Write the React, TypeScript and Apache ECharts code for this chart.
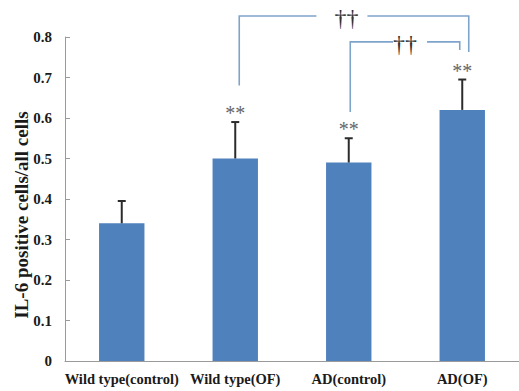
import React, { useEffect, useRef } from 'react';
import * as echarts from 'echarts';

const categories = ['Wild type(control)', 'Wild type(OF)', 'AD(control)', 'AD(OF)'];
const means = [0.34, 0.5, 0.49, 0.62];
const errors = [0.055, 0.09, 0.06, 0.075];
const marks = ['', '**', '**', '**'];
const yTicks = [0, 0.1, 0.2, 0.3, 0.4, 0.5, 0.6, 0.7, 0.8];

// significance brackets (category indices and y values)
const bracketFrom = [1, 2];
const bracketTo = [3, 3];
const bracketLeftY = [0.68, 0.615];
const bracketTopY = [0.852, 0.788];
const bracketRightY = [0.763, 0.768];
const bracketLabels = ['\u2020\u2020', '\u2020\u2020'];

// drawing tweaks (pixels)
const bracketDx = [[4, 6.5], [1.5, -2.5]];
const bracketLabelFrac = [0.467, 0.5];
const bracketGap = [[30, 21], [12, 22]];

const SERIF = '"Liberation Serif", "Times New Roman", serif';

export default function App() {
  const ref = useRef<HTMLDivElement>(null);
  useEffect(() => {
    if (!ref.current) return;
    const chart = echarts.init(ref.current, undefined, { renderer: 'svg' });
    const errData = means.map((m, i) => [i, m, m + errors[i], marks[i]]);
    const brData = bracketFrom.map((f, i) => [f, bracketTo[i], bracketLeftY[i], bracketTopY[i], bracketRightY[i], i]);
    chart.setOption({
      animation: false,
      grid: { left: 65, top: 37, width: 460, height: 324, containLabel: false },
      xAxis: {
        type: 'category',
        data: categories,
        boundaryGap: true,
        axisLine: { lineStyle: { color: '#9a9a9a', width: 1 } },
        axisTick: { inside: true, length: 7, interval: 0, lineStyle: { color: '#9a9a9a' } },
        axisLabel: {
          interval: 0,
          margin: 10,
          color: '#1a1a1a',
          fontFamily: SERIF,
          fontWeight: 'bold',
          fontSize: 14.5,
        },
      },
      yAxis: {
        type: 'value',
        min: 0,
        max: 0.8,
        interval: 0.1,
        axisLine: { show: true, lineStyle: { color: '#9a9a9a', width: 1 } },
        axisTick: { show: true, inside: true, length: 5, lineStyle: { color: '#9a9a9a' } },
        splitLine: { show: false },
        axisLabel: {
          margin: 13,
          color: '#1a1a1a',
          fontFamily: SERIF,
          fontWeight: 'bold',
          fontSize: 15,
          formatter: (v: number) => {
            const t = yTicks.find((y) => Math.abs(y - v) < 1e-9);
            return t === 0 ? '0' : (t ?? v).toFixed(1);
          },
        },
      },
      graphic: [
        {
          type: 'text',
          x: 21,
          y: 215,
          rotation: Math.PI / 2,
          style: {
            text: 'IL-6 positive cells/all cells',
            fill: '#1a1a1a',
            font: `bold 19px ${SERIF}`,
            align: 'center',
            verticalAlign: 'middle',
          },
        },
      ],
      series: [
        {
          type: 'bar',
          data: means,
          barWidth: '40%',
          itemStyle: { color: '#4f81bd' },
        },
        {
          type: 'custom',
          data: errData,
          z: 5,
          renderItem: (params: any, api: any) => {
            const x = api.value(0);
            const top = api.coord([x, api.value(2)]);
            const base = api.coord([x, api.value(1)]);
            const mark = marks[params.dataIndex];
            const children: any[] = [
              {
                type: 'line',
                shape: { x1: base[0], y1: base[1], x2: top[0], y2: top[1] },
                style: { stroke: '#2b2b2b', lineWidth: 2 },
              },
              {
                type: 'line',
                shape: { x1: top[0] - 4, y1: top[1], x2: top[0] + 4, y2: top[1] },
                style: { stroke: '#2b2b2b', lineWidth: 2 },
              },
            ];
            if (mark) {
              children.push({
                type: 'text',
                x: top[0],
                y: top[1] - 9,
                style: {
                  text: mark,
                  fill: '#666',
                  font: `20px ${SERIF}`,
                  align: 'center',
                  verticalAlign: 'middle',
                },
              });
            }
            return { type: 'group', children };
          },
        },
        {
          type: 'custom',
          data: brData,
          z: 5,
          clip: false,
          renderItem: (params: any, api: any) => {
            const i = params.dataIndex;
            const l = api.coord([api.value(0), api.value(2)]);
            const lt = api.coord([api.value(0), api.value(3)]);
            const r = api.coord([api.value(1), api.value(4)]);
            const lx = l[0] + bracketDx[i][0];
            const rx = r[0] + bracketDx[i][1];
            const ty = lt[1];
            const cx = lx + (rx - lx) * bracketLabelFrac[i];
            const g0 = cx - bracketGap[i][0];
            const g1 = cx + bracketGap[i][1];
            const st = { stroke: '#7fa4cb', lineWidth: 1.6, fill: null };
            return {
              type: 'group',
              children: [
                { type: 'polyline', shape: { points: [[lx, l[1]], [lx, ty], [g0, ty]] }, style: st },
                { type: 'polyline', shape: { points: [[g1, ty], [rx, ty], [rx, r[1]]] }, style: st },
                {
                  type: 'text',
                  x: cx,
                  y: ty + 2,
                  style: {
                    text: bracketLabels[i],
                    fill: '#333',
                    font: `24px ${SERIF}`,
                    align: 'center',
                    verticalAlign: 'middle',
                  },
                },
              ],
            };
          },
        },
      ],
    });
    return () => chart.dispose();
  }, []);
  return (
    <div
      ref={ref}
      style={{ position: 'fixed', left: 0, top: 0, width: 519, height: 391, background: '#fff' }}
    />
  );
}
